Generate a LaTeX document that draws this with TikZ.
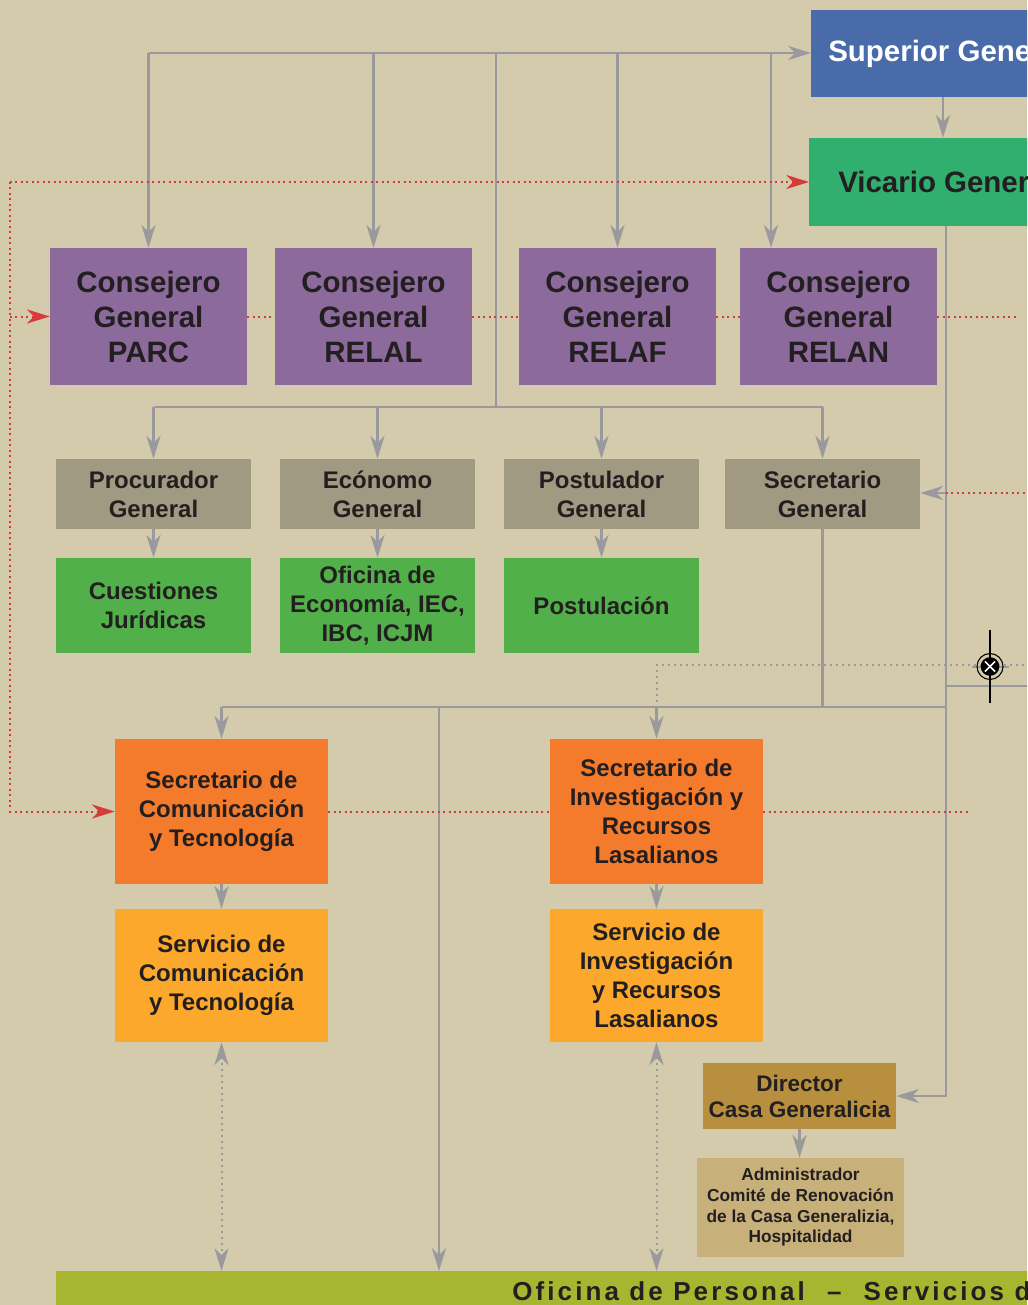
\documentclass[tikz,border=0pt]{standalone}
\usepackage{fontspec}
\setmainfont{Liberation Sans}
\usetikzlibrary{arrows.meta}
\definecolor{bg}{HTML}{D3CBAB}
\definecolor{supc}{HTML}{4A6BAA}
\definecolor{vicc}{HTML}{30AF6F}
\definecolor{purc}{HTML}{8C6A9C}
\definecolor{grayc}{HTML}{A09A82}
\definecolor{grnc}{HTML}{52B04A}
\definecolor{orc}{HTML}{F47B2B}
\definecolor{yelc}{HTML}{FBA82C}
\definecolor{dirc}{HTML}{B88F3F}
\definecolor{admc}{HTML}{C8B07A}
\definecolor{barc}{HTML}{A8B530}
\definecolor{lnc}{HTML}{9A9A9E}
\definecolor{redc}{HTML}{D63A3A}
\definecolor{txt}{HTML}{231F20}
\begin{document}
\begin{tikzpicture}[x=0.75pt,y=-0.75pt,
  wh/.style 2 args={minimum width=#1*0.75pt,minimum height=#2*0.75pt},
  obox/.style={inner sep=0pt,align=center,text=txt,font=\bfseries\fontsize{18pt}{21.75pt}\selectfont},
  bigbox/.style={obox,font=\bfseries\fontsize{22.1pt}{26.25pt}\selectfont},
  gl/.style={draw=lnc,line width=1.9pt},
  arrtip/.style={-{Stealth[length=17pt,width=10.5pt,inset=5pt]}},
  arrboth/.style={{Stealth[length=17pt,width=10.5pt,inset=5pt]}-{Stealth[length=17pt,width=10.5pt,inset=5pt]}},
  ga/.style={gl,arrtip},
  rd/.style={draw=redc,line width=1.5pt,dash pattern=on 1.5pt off 2.6pt},
  ra/.style={rd,arrtip},
  gd/.style={draw=lnc,line width=1.5pt,dash pattern=on 1.5pt off 3pt},
]
\useasboundingbox (0,0) rectangle (1027,1305);
\clip (0,0) rectangle (1027,1305);
\fill[bg] (0,0) rectangle (1027,1305);

% top boxes
\node[bigbox,fill=supc,text=white,anchor=west,minimum height=87*0.75pt,inner xsep=17*0.75pt] (sup) at (811,53.5) {Superior General};
\node[bigbox,fill=vicc,anchor=west,minimum height=88*0.75pt,inner xsep=29*0.75pt] (vic) at (809,182) {Vicario General};

% consejeros
\node[bigbox,fill=purc,wh={197}{137}] (parc) at (148.5,316.5) {Consejero\\General\\PARC};
\node[bigbox,fill=purc,wh={197}{137}] (relal) at (373.5,316.5) {Consejero\\General\\RELAL};
\node[bigbox,fill=purc,wh={197}{137}] (relaf) at (617.5,316.5) {Consejero\\General\\RELAF};
\node[bigbox,fill=purc,wh={197}{137}] (relan) at (838.5,316.5) {Consejero\\General\\RELAN};

% gray boxes
\node[obox,fill=grayc,wh={195}{70}] (proc) at (153.5,494) {Procurador\\General};
\node[obox,fill=grayc,wh={195}{70}] (econ) at (377.5,494) {Ecónomo\\General};
\node[obox,fill=grayc,wh={195}{70}] (post) at (601.5,494) {Postulador\\General};
\node[obox,fill=grayc,wh={195}{70}] (secg) at (822.5,494) {Secretario\\General};

% green boxes
\node[obox,fill=grnc,wh={195}{95}] (cues) at (153.5,605.5) {Cuestiones\\Jurídicas};
\node[obox,fill=grnc,wh={195}{95}] (ofic) at (377.5,605.5) {Oficina de\\Economía, IEC,\\IBC, ICJM};
\node[obox,fill=grnc,wh={195}{95}] (postu) at (601.5,605.5) {Postulación};

% orange boxes
\node[obox,fill=orc,wh={213}{145}] (seccom) at (221.5,811.5) {Secretario de\\Comunicación\\y Tecnología};
\node[obox,fill=orc,wh={213}{145}] (secinv) at (656.5,811.5) {Secretario de\\Investigación y\\Recursos\\Lasalianos};

% yellow boxes
\node[obox,fill=yelc,wh={213}{133}] (sercom) at (221.5,975.5) {Servicio de\\Comunicación\\y Tecnología};
\node[obox,fill=yelc,wh={213}{133}] (serinv) at (656.5,975.5) {Servicio de\\Investigación\\y Recursos\\Lasalianos};

% director / administrador
\node[obox,fill=dirc,wh={193}{66},font=\bfseries\fontsize{16.9pt}{19.5pt}\selectfont] (dir) at (799.5,1096) {Director\\Casa Generalicia};
\node[obox,fill=admc,wh={207}{99},font=\bfseries\fontsize{13pt}{15.5pt}\selectfont] (adm) at (800.5,1207.5) {Administrador\\Comité de Renovación\\de la Casa Generalizia,\\Hospitalidad};

% bottom bar
\node[obox,fill=barc,anchor=north west,minimum height=40*0.75pt,inner xsep=456*0.75pt,inner ysep=0pt,
  font=\bfseries\fontsize{19.5pt}{22pt}\selectfont\addfontfeature{LetterSpace=12}] (bar) at (56,1271)
  {Oficina de Personal\hspace{0.85em}–\hspace{0.85em}Servicios de};

% coordinates
\coordinate (ty) at (0,53);
\coordinate (x771) at (771,53);
\coordinate (m1) at (496,53);
\coordinate (m2) at (496,407);
\coordinate (hy) at (0,407);
\coordinate (ly) at (0,707);
\coordinate (ry) at (0,686);
\coordinate (vx) at (946,0);
\coordinate (sv) at (943,0);
\coordinate (x439) at (439,707);
\coordinate (redge) at (1030,0);
\coordinate (r0) at (10,182);
\coordinate (re1) at (1018,316.5);
\coordinate (re2) at (970,811.5);
\coordinate (sgr) at (1030,493);
\coordinate (g0) at (1030,665);
\coordinate (g1) at (656.5,704);

% gray connectors
\draw[ga] (parc.north |- ty) -- (sup.west |- ty);
\draw[ga] (parc.north |- ty) -- (parc.north);
\draw[ga] (relal.north |- ty) -- (relal.north);
\draw[ga] (relaf.north |- ty) -- (relaf.north);
\draw[ga] (x771) -- (x771 |- relan.north);
\draw[gl] (m1) -- (m2);
\draw[ga] (sup.south -| sv) -- (vic.north -| sv);
\draw[gl] (proc.north |- hy) -- (secg.north |- hy);
\foreach \n in {proc,econ,post,secg} \draw[ga] (\n.north |- hy) -- (\n.north);
\draw[ga] (proc.south) -- (cues.north);
\draw[ga] (econ.south) -- (ofic.north);
\draw[ga] (post.south) -- (postu.north);
\draw[gl] (secg.south) -- (secg.south |- ly);
\draw[ga] (vic.south -| vx) |- (dir.east);
\draw[gl] (vx |- ry) -- (redge |- ry);
\draw[gl] (seccom.north |- ly) -- (vx |- ly);
\draw[ga] (seccom.north |- ly) -- (seccom.north);
\draw[ga] (secinv.north |- ly) -- (secinv.north);
\draw[ga] (x439) -- (x439 |- bar.north);
\draw[ga] (seccom.south) -- (sercom.north);
\draw[ga] (secinv.south) -- (serinv.north);
\draw[ga] (dir.south) -- (dir.south |- adm.north);

% gray dotted
\draw[gd] (g0) -| (g1);
\draw[gd,arrboth] (sercom.south) -- (sercom.south |- bar.north);
\draw[gd,arrboth] (serinv.south) -- (serinv.south |- bar.north);

% red dotted
\draw[ra] (r0) -- (vic.west);
\draw[ra] (r0) |- (seccom.west);
\draw[ra] (r0 |- parc.west) -- (parc.west);
\draw[rd] (parc.east) -- (relal.west);
\draw[rd] (relal.east) -- (relaf.west);
\draw[rd] (relaf.east) -- (relan.west);
\draw[rd] (relan.east) -- (re1);
\draw[rd] (seccom.east) -- (secinv.west);
\draw[rd] (secinv.east) -- (re2);
\draw[rd] (sgr) -- (sgr -| vx);
\draw[ga] (sgr -| vx) -- (sgr -| secg.east);

% registration mark
\draw[lnc,line width=1.5pt] (972,666.5) -- (1009,666.5);
\draw[black,line width=0.8pt] (990,630) -- (990,703);
\node[circle,draw=black,line width=0.8pt,minimum size=19.5pt,inner sep=0pt] (reg) at (990,666.5) {};
\fill[black] (reg.center) circle (7pt);
\draw[white,line width=1.3pt] (reg.center) ++(-3.8pt,-3.8pt) -- ++(7.6pt,7.6pt);
\draw[white,line width=1.3pt] (reg.center) ++(-3.8pt,3.8pt) -- ++(7.6pt,-7.6pt);
\end{tikzpicture}
\end{document}
